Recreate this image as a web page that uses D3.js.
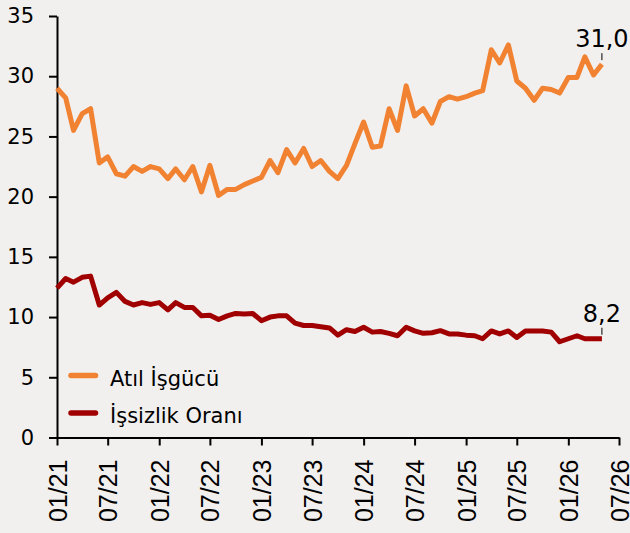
<!DOCTYPE html>
<html><head><meta charset="utf-8">
<script src="https://cdn.jsdelivr.net/npm/d3@7"></script>
<style>
html,body{margin:0;padding:0;background:#f2f0ee;}
svg{display:block;}
</style></head>
<body>
<svg id="c" width="630" height="533"></svg>
<script>
const startMonth = new Date(2021, 0, 1);
const endMonth = new Date(2026, 5, 1);
const months = d3.timeMonth.range(startMonth, endMonth); // 01/21 .. 05/26
const atilIsgucu = [29.0,28.2,25.5,26.9,27.3,22.8,23.3,21.9,21.7,22.5,
  22.1,22.5,22.3,21.5,22.3,21.4,22.5,20.4,22.6,20.1,
  20.6,20.6,21.0,21.3,21.6,23.0,22.0,23.9,22.8,24.0,
  22.5,23.0,22.1,21.5,22.6,24.4,26.2,24.1,24.2,27.3,
  25.5,29.2,26.7,27.3,26.1,27.9,28.3,28.1,28.3,28.6,
  28.8,32.2,31.1,32.6,29.6,29.0,28.0,29.0,28.9,28.6,
  29.9,29.9,31.6,30.1,31.0];
const issizlikOrani = [12.4,13.2,12.9,13.3,13.4,11.0,11.6,12.05,11.3,11.0,
  11.2,11.05,11.2,10.6,11.2,10.8,10.8,10.1,10.15,9.8,
  10.1,10.3,10.25,10.3,9.7,10.0,10.1,10.1,9.5,9.3,
  9.3,9.2,9.1,8.5,8.95,8.8,9.15,8.75,8.8,8.65,
  8.45,9.15,8.85,8.65,8.7,8.87,8.6,8.6,8.5,8.45,
  8.2,8.85,8.6,8.85,8.3,8.85,8.85,8.85,8.75,7.95,
  8.2,8.45,8.2,8.2,8.2];
const seriesNames = ["Atıl İşgücü", "İşsizlik Oranı"];
const seriesColors = ["#f08232", "#a00000"];
const yTicks = [0,5,10,15,20,25,30,35];
const xTickStart = new Date(2021,0,1), xTickEnd = new Date(2026,6,1);

const svg = d3.select("#c");
const x = d3.scaleTime().domain([xTickStart, xTickEnd]).range([57, 619]);
const y = d3.scaleLinear().domain([0, 35]).range([437.5, 16]);

// y axis
const gy = svg.append("g").attr("transform","translate(57,0)")
  .call(d3.axisLeft(y).tickValues(yTicks).tickSize(8).tickSizeOuter(0).tickPadding(15));
gy.select(".domain").attr("stroke","#000").attr("stroke-width",2);
gy.selectAll(".tick line").attr("stroke","#000").attr("stroke-width",2);
gy.selectAll(".tick text").attr("font-family","'DejaVu Sans'").attr("font-size",21).attr("fill","#000");

// x axis
const gx = svg.append("g").attr("transform","translate(0,437.5)")
  .call(d3.axisBottom(x).ticks(d3.timeMonth.every(6)).tickFormat(d3.timeFormat("%m/%y"))
    .tickSize(8).tickSizeOuter(0));
gx.select(".domain").attr("stroke","#000").attr("stroke-width",2);
gx.selectAll(".tick line").attr("stroke","#000").attr("stroke-width",2);
gx.selectAll(".tick text")
  .attr("font-family","'Liberation Sans', Arial, sans-serif").attr("font-size",25).attr("fill","#000")
  .attr("transform","rotate(-90)").attr("text-anchor","end")
  .attr("x",-22).attr("y",0).attr("dy","0.36em");

// lines
const series = [atilIsgucu, issizlikOrani];
const line = d3.line().x((d,i)=>x(months[i])).y(d=>y(d));
series.forEach((s,k)=>{
  svg.append("path").datum(s).attr("d", line)
    .attr("fill","none").attr("stroke", seriesColors[k]).attr("stroke-width",5)
    .attr("stroke-linejoin","round").attr("stroke-linecap","butt");
});

// end labels
const fmt = v => d3.format(".1f")(v).replace(".", ",");
series.forEach((s,k)=>{
  const i = s.length-1, px = x(months[i]), py = y(s[i]);
  svg.append("line").attr("x1",px).attr("x2",px).attr("y1",py-11).attr("y2",py-4)
    .attr("stroke","#000").attr("stroke-width",1);
  svg.append("text").attr("x",px).attr("y",py-17).attr("text-anchor","middle")
    .attr("font-family","'DejaVu Sans'").attr("font-size",24).attr("fill","#000")
    .text(fmt(s[i]));
});

// legend
const leg = svg.append("g");
seriesNames.forEach((n,k)=>{
  const ly = 375.5 + k*37.5;
  leg.append("line").attr("x1",71).attr("x2",95.5).attr("y1",ly).attr("y2",ly)
    .attr("stroke",seriesColors[k]).attr("stroke-width",5.5).attr("stroke-linecap","round");
  leg.append("text").attr("x",110).attr("y",ly+10).attr("font-family","'DejaVu Sans'")
    .attr("font-size",21).attr("fill","#000").text(n);
});
</script>
</body></html>
